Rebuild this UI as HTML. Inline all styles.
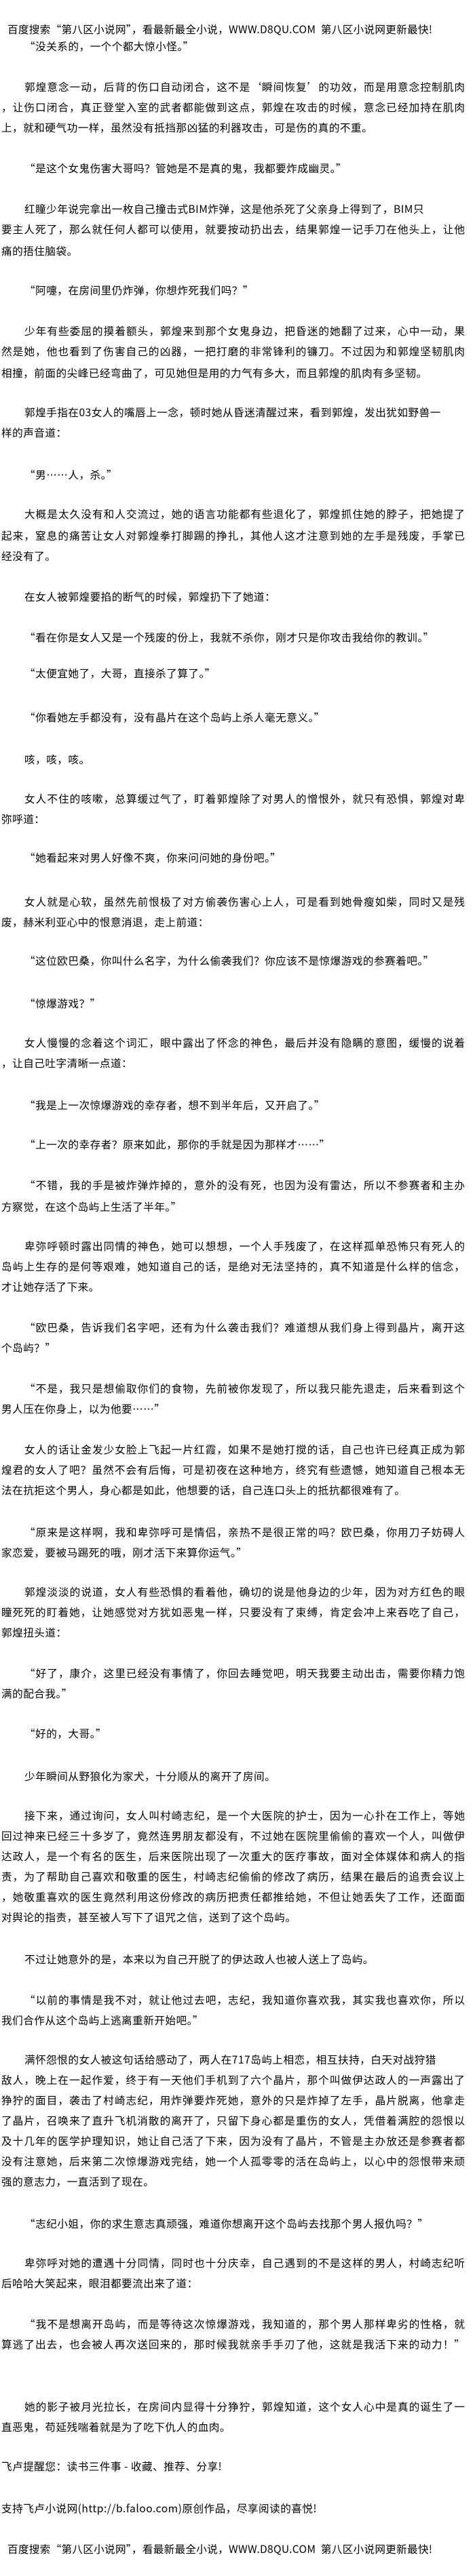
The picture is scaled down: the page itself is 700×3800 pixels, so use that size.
<!DOCTYPE html>
<html lang="zh-CN">
<head>
<meta charset="utf-8">
<style>
html,body{margin:0;padding:0;background:#fff;}
body{width:700px;height:3800px;position:relative;overflow:hidden;color:#000;
font-family:"Noto Sans CJK SC","WenQuanYi Zen Hei",sans-serif;}
.l{position:absolute;font-size:15.6px;line-height:20px;height:20px;white-space:nowrap;letter-spacing:0.5px;}
.f{text-align:justify;text-align-last:justify;letter-spacing:0;}
.p{left:36px;}
.c{left:2px;}
.p.f{width:649px;}
.c.f{width:683px;}
</style>
</head>
<body>
<div class="l" style="top:33px;left:11px;letter-spacing:0.3px">百度搜索“第八区小说网”，看最新最全小说，WWW.D8QU.COM&nbsp;&nbsp;第八区小说网更新最快!</div>
<div class="l p" style="top:58px">“没关系的，一个个都大惊小怪。”</div>

<div class="l p f" style="top:118px">郭煌意念一动，后背的伤口自动闭合，这不是‘瞬间恢复’的功效，而是用意念控制肌肉</div>
<div class="l c f" style="top:148px">，让伤口闭合，真正登堂入室的武者都能做到这点，郭煌在攻击的时候，意念已经加持在肌肉</div>
<div class="l c" style="top:178px">上，就和硬气功一样，虽然没有抵挡那凶猛的利器攻击，可是伤的真的不重。</div>

<div class="l p" style="top:238px">“是这个女鬼伤害大哥吗？管她是不是真的鬼，我都要炸成幽灵。”</div>

<div class="l p" style="top:298px">红瞳少年说完拿出一枚自己撞击式BIM炸弹，这是他杀死了父亲身上得到了，BIM只</div>
<div class="l c f" style="top:328px">要主人死了，那么就任何人都可以使用，就要按动扔出去，结果郭煌一记手刀在他头上，让他</div>
<div class="l c" style="top:360px">痛的捂住脑袋。</div>

<div class="l p" style="top:418px">“阿嚏，在房间里仍炸弹，你想炸死我们吗？”</div>

<div class="l p f" style="top:478px">少年有些委屈的摸着额头，郭煌来到那个女鬼身边，把昏迷的她翻了过来，心中一动，果</div>
<div class="l c f" style="top:508px">然是她，他也看到了伤害自己的凶器，一把打磨的非常锋利的镰刀。不过因为和郭煌坚韧肌肉</div>
<div class="l c" style="top:540px">相撞，前面的尖峰已经弯曲了，可见她但是用的力气有多大，而且郭煌的肌肉有多坚韧。</div>

<div class="l p" style="top:598px">郭煌手指在03女人的嘴唇上一念，顿时她从昏迷清醒过来，看到郭煌，发出犹如野兽一</div>
<div class="l c" style="top:628px">样的声音道：</div>

<div class="l p" style="top:690px">“男……人，杀。”</div>

<div class="l p f" style="top:748px">大概是太久没有和人交流过，她的语言功能都有些退化了，郭煌抓住她的脖子，把她提了</div>
<div class="l c f" style="top:780px">起来，窒息的痛苦让女人对郭煌拳打脚踢的挣扎，其他人这才注意到她的左手是残废，手掌已</div>
<div class="l c" style="top:810px">经没有了。</div>

<div class="l p" style="top:870px">在女人被郭煌要掐的断气的时候，郭煌扔下了她道：</div>

<div class="l p" style="top:930px">“看在你是女人又是一个残废的份上，我就不杀你，刚才只是你攻击我给你的教训。”</div>

<div class="l p" style="top:983px">“太便宜她了，大哥，直接杀了算了。”</div>

<div class="l p" style="top:1048px">“你看她左手都没有，没有晶片在这个岛屿上杀人毫无意义。”</div>

<div class="l p" style="top:1110px">咳，咳，咳。</div>

<div class="l p f" style="top:1168px">女人不住的咳嗽，总算缓过气了，盯着郭煌除了对男人的憎恨外，就只有恐惧，郭煌对卑</div>
<div class="l c" style="top:1198px">弥呼道：</div>

<div class="l p" style="top:1255px">“她看起来对男人好像不爽，你来问问她的身份吧。”</div>

<div class="l p f" style="top:1320px">女人就是心软，虽然先前恨极了对方偷袭伤害心上人，可是看到她骨瘦如柴，同时又是残</div>
<div class="l c" style="top:1350px">废，赫米利亚心中的恨意消退，走上前道：</div>

<div class="l p" style="top:1407px">“这位欧巴桑，你叫什么名字，为什么偷袭我们？你应该不是惊爆游戏的参赛着吧。”</div>

<div class="l p" style="top:1470px">“惊爆游戏？”</div>

<div class="l p f" style="top:1528px">女人慢慢的念着这个词汇，眼中露出了怀念的神色，最后并没有隐瞒的意图，缓慢的说着</div>
<div class="l c" style="top:1558px">，让自己吐字清晰一点道：</div>

<div class="l p" style="top:1620px">“我是上一次惊爆游戏的幸存者，想不到半年后，又开启了。”</div>

<div class="l p" style="top:1678px">“上一次的幸存者？原来如此，那你的手就是因为那样才……”</div>

<div class="l p f" style="top:1738px">“不错，我的手是被炸弹炸掉的，意外的没有死，也因为没有雷达，所以不参赛者和主办</div>
<div class="l c" style="top:1770px">方察觉，在这个岛屿上生活了半年。”</div>

<div class="l p f" style="top:1828px">卑弥呼顿时露出同情的神色，她可以想想，一个人手残废了，在这样孤单恐怖只有死人的</div>
<div class="l c f" style="top:1858px">岛屿上生存的是何等艰难，她知道自己的话，是绝对无法坚持的，真不知道是什么样的信念，</div>
<div class="l c" style="top:1888px">才让她存活了下来。</div>

<div class="l p f" style="top:1948px">“欧巴桑，告诉我们名字吧，还有为什么袭击我们？难道想从我们身上得到晶片，离开这</div>
<div class="l c" style="top:1978px">个岛屿？”</div>

<div class="l p f" style="top:2038px">“不是，我只是想偷取你们的食物，先前被你发现了，所以我只能先退走，后来看到这个</div>
<div class="l c" style="top:2068px">男人压在你身上，以为他要……”</div>

<div class="l p f" style="top:2128px">女人的话让金发少女脸上飞起一片红霞，如果不是她打搅的话，自己也许已经真正成为郭</div>
<div class="l c f" style="top:2158px">煌君的女人了吧？虽然不会有后悔，可是初夜在这种地方，终究有些遗憾，她知道自己根本无</div>
<div class="l c" style="top:2188px">法在抗拒这个男人，身心都是如此，他想要的话，自己连口头上的抵抗都很难有了。</div>

<div class="l p f" style="top:2250px">“原来是这样啊，我和卑弥呼可是情侣，亲热不是很正常的吗？欧巴桑，你用刀子妨碍人</div>
<div class="l c" style="top:2280px">家恋爱，要被马踢死的哦，刚才活下来算你运气。”</div>

<div class="l p f" style="top:2338px">郭煌淡淡的说道，女人有些恐惧的看着他，确切的说是他身边的少年，因为对方红色的眼</div>
<div class="l c f" style="top:2368px">瞳死死的盯着她，让她感觉对方犹如恶鬼一样，只要没有了束缚，肯定会冲上来吞吃了自己，</div>
<div class="l c" style="top:2398px">郭煌扭头道：</div>

<div class="l p f" style="top:2458px">“好了，康介，这里已经没有事情了，你回去睡觉吧，明天我要主动出击，需要你精力饱</div>
<div class="l c" style="top:2488px">满的配合我。”</div>

<div class="l p" style="top:2547px">“好的，大哥。”</div>

<div class="l p" style="top:2610px">少年瞬间从野狼化为家犬，十分顺从的离开了房间。</div>

<div class="l p f" style="top:2668px">接下来，通过询问，女人叫村崎志纪，是一个大医院的护士，因为一心扑在工作上，等她</div>
<div class="l c f" style="top:2698px">回过神来已经三十多岁了，竟然连男朋友都没有，不过她在医院里偷偷的喜欢一个人，叫做伊</div>
<div class="l c f" style="top:2728px">达政人，是一个有名的医生，后来医院出现了一次重大的医疗事故，面对全体媒体和病人的指</div>
<div class="l c f" style="top:2758px">责，为了帮助自己喜欢和敬重的医生，村崎志纪偷偷的修改了病历，结果在最后的追责会议上</div>
<div class="l c f" style="top:2788px">，她敬重喜欢的医生竟然利用这份修改的病历把责任都推给她，不但让她丢失了工作，还面面</div>
<div class="l c" style="top:2818px">对舆论的指责，甚至被人写下了诅咒之信，送到了这个岛屿。</div>

<div class="l p" style="top:2880px">不过让她意外的是，本来以为自己开脱了的伊达政人也被人送上了岛屿。</div>

<div class="l p f" style="top:2940px">“以前的事情是我不对，就让他过去吧，志纪，我知道你喜欢我，其实我也喜欢你，所以</div>
<div class="l c" style="top:2970px">我们合作从这个岛屿上逃离重新开始吧。”</div>

<div class="l p" style="top:3028px">满怀怨恨的女人被这句话给感动了，两人在717岛屿上相恋，相互扶持，白天对战狩猎</div>
<div class="l c f" style="top:3058px">敌人，晚上在一起作爱，终于有一天他们手机到了六个晶片，那个叫做伊达政人的一声露出了</div>
<div class="l c f" style="top:3088px">狰狞的面目，袭击了村崎志纪，用炸弹要炸死她，意外的只是炸掉了左手，晶片脱离，他拿走</div>
<div class="l c f" style="top:3118px">了晶片，召唤来了直升飞机消散的离开了，只留下身心都是重伤的女人，凭借着满腔的怨恨以</div>
<div class="l c f" style="top:3148px">及十几年的医学护理知识，她让自己活了下来，因为没有了晶片，不管是主办放还是参赛者都</div>
<div class="l c f" style="top:3178px">没有注意她，后来第二次惊爆游戏完结，她一个人孤零零的活在岛屿上，以心中的怨恨带来顽</div>
<div class="l c" style="top:3208px">强的意志力，一直活到了现在。</div>

<div class="l p" style="top:3270px">“志纪小姐，你的求生意志真顽强，难道你想离开这个岛屿去找那个男人报仇吗？”</div>

<div class="l p f" style="top:3328px">卑弥呼对她的遭遇十分同情，同时也十分庆幸，自己遇到的不是这样的男人，村崎志纪听</div>
<div class="l c" style="top:3358px">后哈哈大笑起来，眼泪都要流出来了道：</div>

<div class="l p f" style="top:3418px">“我不是想离开岛屿，而是等待这次惊爆游戏，我知道的，那个男人那样卑劣的性格，就</div>
<div class="l c f" style="top:3448px">算逃了出去，也会被人再次送回来的，那时候我就亲手手刃了他，这就是我活下来的动力！”</div>

<div class="l p f" style="top:3540px">她的影子被月光拉长，在房间内显得十分狰狞，郭煌知道，这个女人心中是真的诞生了一</div>
<div class="l c" style="top:3570px">直恶鬼，苟延残喘着就是为了吃下仇人的血肉。</div>

<div class="l c" style="top:3628px">飞卢提醒您：读书三件事 - 收藏、推荐、分享!</div>

<div class="l c" style="top:3690px">支持飞卢小说网(http://b.faloo.com)原创作品，尽享阅读的喜悦!</div>

<div class="l" style="top:3750px;left:11px;letter-spacing:0.3px">百度搜索“第八区小说网”，看最新最全小说，WWW.D8QU.COM&nbsp;&nbsp;第八区小说网更新最快!</div>
</body>
</html>
